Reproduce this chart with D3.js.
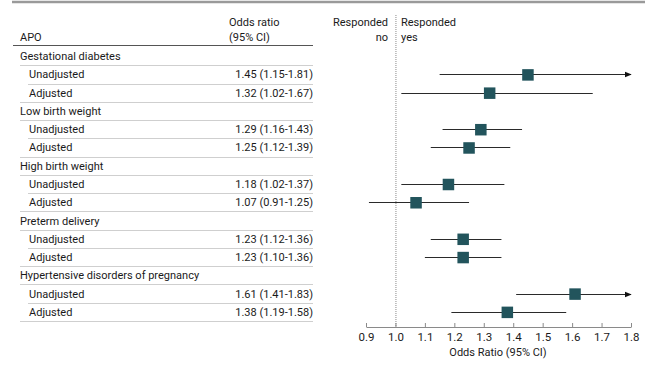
<!DOCTYPE html>
<html>
<head>
<meta charset="utf-8">
<script src="https://cdn.jsdelivr.net/npm/d3@7"></script>
<style>
  body { margin: 0; background: #fff; }
  svg { font-family: Roboto, "Liberation Sans", sans-serif; }
</style>
</head>
<body>
<svg id="canvas"></svg>
<script>
// outcomes and their odds ratios (95% CI)
const groups = ["Gestational diabetes", "Low birth weight", "High birth weight", "Preterm delivery", "Hypertensive disorders of pregnancy"];
const models = ["Unadjusted", "Adjusted"];
const unadjOR = [1.45, 1.29, 1.18, 1.23, 1.61];
const unadjLo = [1.15, 1.16, 1.02, 1.12, 1.41];
const unadjHi = [1.81, 1.43, 1.37, 1.36, 1.83];
const adjOR = [1.32, 1.25, 1.07, 1.23, 1.38];
const adjLo = [1.02, 1.12, 0.91, 1.10, 1.19];
const adjHi = [1.67, 1.39, 1.25, 1.36, 1.58];
const xTicks = [0.9, 1.0, 1.1, 1.2, 1.3, 1.4, 1.5, 1.6, 1.7, 1.8];

const width = 657, height = 370;
const svg = d3.select("#canvas").attr("width", width).attr("height", height);

// flatten into table rows: group label, then one row per model
const rows = [];
groups.forEach((g, i) => {
  rows.push({ type: "group", label: g });
  rows.push({ type: "est", label: models[0], or: unadjOR[i], lo: unadjLo[i], hi: unadjHi[i], last: false });
  rows.push({ type: "est", label: models[1], or: adjOR[i], lo: adjLo[i], hi: adjHi[i], last: true });
});

const y = d3.scaleBand().domain(d3.range(rows.length)).range([47, 321]);
const x = d3.scaleLinear().domain([0.9, 1.8]).range([366, 631]);
const yc = i => y(i) + y.bandwidth() / 2;

const ink = "#1a1a1a";

// top rule
svg.append("line").attr("x1", 12).attr("x2", 645).attr("y1", 2).attr("y2", 2)
  .attr("stroke", "#9a9a9a").attr("stroke-width", 2.5);

// column headers
svg.append("text").attr("x", 20).attr("y", 41).attr("font-size", 11).attr("fill", ink).text("APO");
svg.append("text").attr("x", 229).attr("y", 26).attr("font-size", 11).attr("fill", ink).text("Odds ratio");
svg.append("text").attr("x", 229).attr("y", 41).attr("font-size", 11).attr("fill", ink).text("(95% CI)");
svg.append("line").attr("x1", 13).attr("x2", 313).attr("y1", 45.5).attr("y2", 45.5)
  .attr("stroke", "#555").attr("stroke-width", 1);

svg.append("text").attr("x", 388).attr("y", 26).attr("text-anchor", "end").attr("font-size", 11).attr("fill", ink).text("Responded");
svg.append("text").attr("x", 388).attr("y", 41).attr("text-anchor", "end").attr("font-size", 11).attr("fill", ink).text("no");
svg.append("text").attr("x", 401).attr("y", 26).attr("font-size", 11).attr("fill", ink).text("Responded");
svg.append("text").attr("x", 401).attr("y", 41).attr("font-size", 11).attr("fill", ink).text("yes");

// row separators
svg.append("g").selectAll("line").data(rows).join("line")
  .attr("x1", d => d.type === "est" && !d.last ? 28 : 20)
  .attr("x2", 313)
  .attr("y1", (d, i) => Math.round(y(i) + y.bandwidth()) + 0.5)
  .attr("y2", (d, i) => Math.round(y(i) + y.bandwidth()) + 0.5)
  .attr("stroke", "#cfcfcf").attr("stroke-width", 1);

// row labels
svg.append("g").selectAll("text").data(rows).join("text")
  .attr("x", d => d.type === "group" ? 20 : 29)
  .attr("y", (d, i) => yc(i) + 4)
  .attr("font-size", 11).attr("fill", ink)
  .text(d => d.label);

const est = rows.map((d, i) => Object.assign({ i }, d)).filter(d => d.type === "est");

svg.append("g").selectAll("text").data(est).join("text")
  .attr("x", 313).attr("y", d => yc(d.i) + 4)
  .attr("text-anchor", "end").attr("font-size", 11).attr("fill", ink)
  .text(d => `${d.or.toFixed(2)} (${d.lo.toFixed(2)}-${d.hi.toFixed(2)})`);

// reference line at OR = 1
svg.append("line").attr("x1", x(1) + 0.5).attr("x2", x(1) + 0.5).attr("y1", 15).attr("y2", 327)
  .attr("stroke", "#8a8a8a").attr("stroke-width", 1).attr("stroke-dasharray", "1,1");

// arrow marker for CIs past the axis
svg.append("defs").append("marker")
  .attr("id", "arrow").attr("viewBox", "0 0 10 10").attr("refX", 9).attr("refY", 5)
  .attr("markerWidth", 7).attr("markerHeight", 7).attr("markerUnits", "userSpaceOnUse")
  .attr("orient", "auto")
  .append("path").attr("d", "M0,1L10,5L0,9Z").attr("fill", "#111");

const [xmin, xmax] = x.domain();
svg.append("g").selectAll("line").data(est).join("line")
  .attr("x1", d => x(Math.max(d.lo, xmin)))
  .attr("x2", d => x(Math.min(d.hi, xmax)))
  .attr("y1", d => Math.round(yc(d.i)) + 0.5)
  .attr("y2", d => Math.round(yc(d.i)) + 0.5)
  .attr("stroke", "#2a2a2a").attr("stroke-width", 1)
  .attr("marker-end", d => d.hi > xmax ? "url(#arrow)" : null);

const sq = 11.5;
svg.append("g").selectAll("rect").data(est).join("rect")
  .attr("x", d => x(d.or) - sq / 2)
  .attr("y", d => yc(d.i) - sq / 2 + 0.5)
  .attr("width", sq).attr("height", sq)
  .attr("fill", "#22545c");

// x axis, ticks pointing up
const axis = svg.append("g").attr("transform", "translate(0,327)")
  .call(d3.axisBottom(x).tickValues(xTicks).tickFormat(d3.format(".1f"))
    .tickSizeInner(-4).tickSizeOuter(0).tickPadding(6));
axis.select(".domain").attr("stroke", "#8a8a8a");
axis.selectAll(".tick line").attr("stroke", "#8a8a8a");
axis.selectAll(".tick text").attr("font-size", 11.5).attr("fill", ink)
  .attr("font-family", "Roboto, sans-serif");

svg.append("text").attr("x", 498).attr("y", 356).attr("text-anchor", "middle")
  .attr("font-size", 11).attr("fill", ink).text("Odds Ratio (95% CI)");
</script>
</body>
</html>
